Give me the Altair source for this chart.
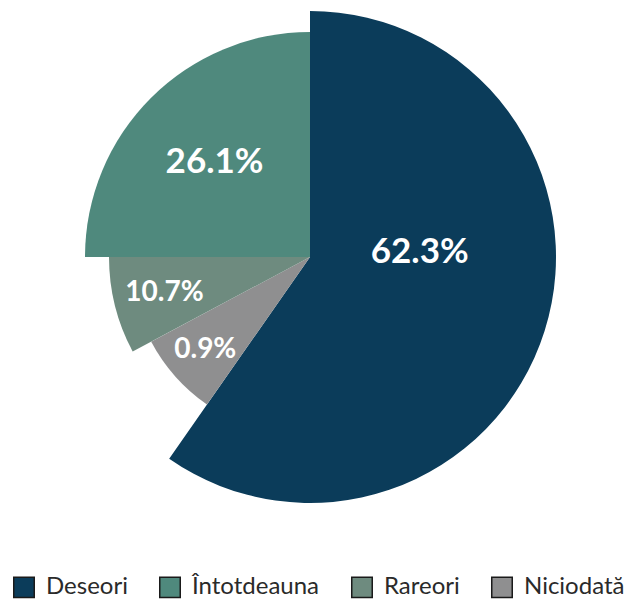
import altair as alt
import pandas as pd

# Slices in drawing order (clockwise from 12 o'clock)
categories = ["Deseori", "Niciodată", "Rareori", "Întotdeauna"]
percent_labels = [62.3, 0.9, 10.7, 26.1]
# angular share of each slice as drawn in the picture (percent of the full circle)
drawn_share = [59.7, 7.5, 7.8, 25.0]
draw_order = [0, 1, 2, 3]

legend_order = ["Deseori", "Întotdeauna", "Rareori", "Niciodată"]
legend_colors = ["#0b3c5a", "#4f897d", "#6e8b7f", "#8f8f90"]

df = pd.DataFrame({
    "cat": categories,
    "pct": percent_labels,
    "share": drawn_share,
    "idx": draw_order,
})

FONT = "Lato"

base = (
    alt.Chart(df)
    .transform_window(t1="sum(share)", sort=[alt.SortField("idx", order="ascending")])
    .transform_calculate(
        t0="datum.t1 - datum.share",
        tm="datum.t1 - datum.share / 2",
        r="datum.cat == 'Deseori' ? 246 : datum.cat == 'Întotdeauna' ? 225 : datum.cat == 'Rareori' ? 201 : 180",
        lr="datum.cat == 'Deseori' ? 115 : datum.cat == 'Întotdeauna' ? 135 : datum.cat == 'Rareori' ? 150 : 140",
        fs="datum.cat == 'Deseori' || datum.cat == 'Întotdeauna' ? 35 : 28",
        lab_main="datum.cat == 'Deseori' ? '' : format(datum.pct, '.1f') + '%'",
        lab_big="datum.cat == 'Deseori' ? format(datum.pct, '.1f') + '%' : ''",
    )
)

theta_scale = alt.Scale(domain=[0, 100])

arcs = base.mark_arc().encode(
    theta=alt.Theta("t0:Q", scale=theta_scale, stack=None),
    theta2="t1:Q",
    radius=alt.Radius("r:Q", scale=None),
    color=alt.Color(
        "cat:N",
        scale=alt.Scale(domain=legend_order, range=legend_colors),
        legend=alt.Legend(
            orient="none",
            legendX=4,
            legendY=567,
            direction="horizontal",
            title=None,
            symbolType="square",
            symbolSize=420,
            symbolStrokeColor="#1a1a1a",
            symbolStrokeWidth=1.5,
            labelFont=FONT,
            labelFontSize=24,
            labelColor="#2a2a2a",
            labelOffset=10,
            columnPadding=28,
            labelLimit=300,
        ),
    ),
)

labels = base.mark_text(font=FONT, fontWeight="bold", color="white").encode(
    theta=alt.Theta("tm:Q", scale=theta_scale, stack=None),
    radius=alt.Radius("lr:Q", scale=None),
    size=alt.Size("fs:Q", scale=None),
    text="lab_main:N",
)

label_big = base.mark_text(font=FONT, fontWeight="bold", color="white", dy=-40).encode(
    theta=alt.Theta("tm:Q", scale=theta_scale, stack=None),
    radius=alt.Radius("lr:Q", scale=None),
    size=alt.Size("fs:Q", scale=None),
    text="lab_big:N",
)

chart = (
    alt.layer(arcs, labels, label_big)
    .properties(
        width=604,
        height=498,
        autosize=alt.AutoSizeParams(type="none"),
        padding={"left": 0, "top": 0, "right": 17, "bottom": 100},
        background="white",
    )
    .configure_view(stroke=None)
)

chart.save("out.html", embed_options={"renderer": "svg", "actions": False})
